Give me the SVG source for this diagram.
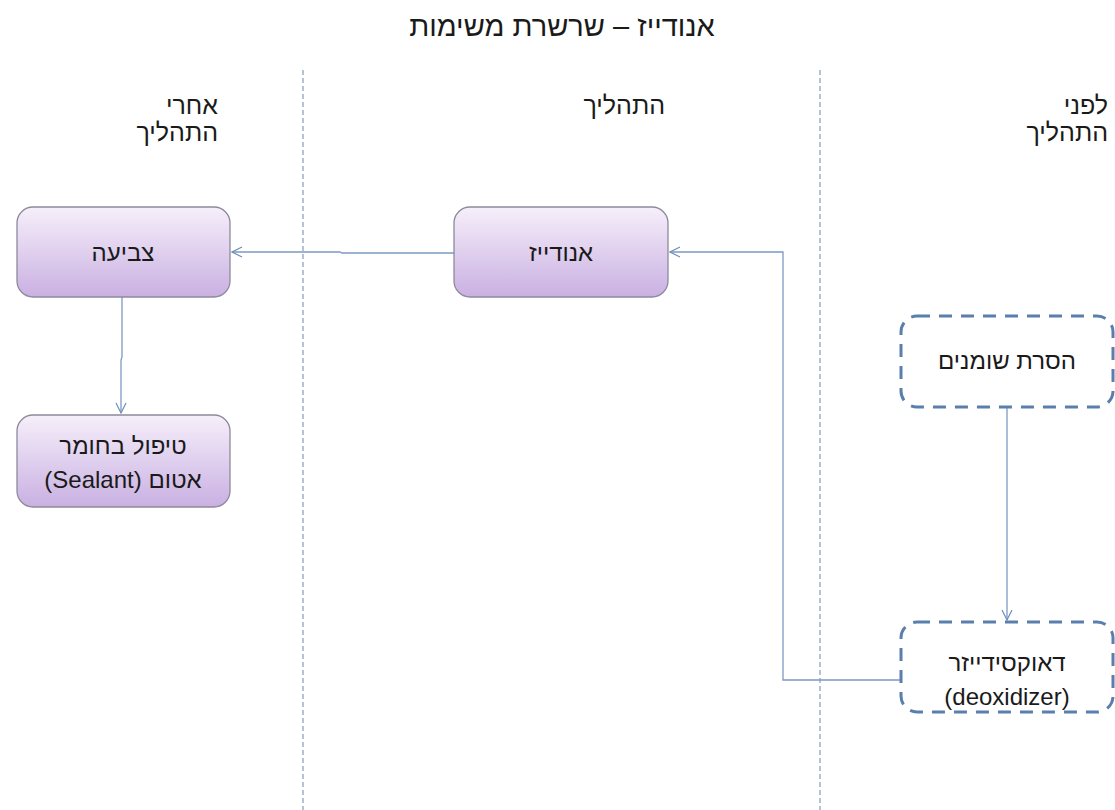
<svg xmlns="http://www.w3.org/2000/svg" width="1115" height="810" viewBox="0 0 1115 810">
<defs>
<linearGradient id="purp" x1="0" y1="0" x2="0" y2="1">
<stop offset="0" stop-color="#f6effa"/>
<stop offset="1" stop-color="#c9b0e2"/>
</linearGradient>
<marker id="arr" viewBox="0 0 12 12" refX="11" refY="6" markerWidth="12" markerHeight="12" markerUnits="userSpaceOnUse" orient="auto">
<path d="M1,1 L11,6 L1,11" fill="none" stroke="#6f8fbb" stroke-width="1.2"/>
</marker>
</defs>
<style>
text{font-family:"Liberation Sans","DejaVu Sans",sans-serif;fill:#1a1a1a;}
.h{font-size:25px;text-anchor:start;}
.t{font-size:24px;text-anchor:middle;}
.solid{fill:url(#purp);stroke:#8d8a9c;stroke-width:1.3;}
.dash{fill:#ffffff;stroke:#5a7fac;stroke-width:3;stroke-dasharray:13,9;}
.lane{stroke:#6d87b0;stroke-width:1;stroke-dasharray:5,3;fill:none;}
.con{stroke:#7d99c2;stroke-width:1.3;fill:none;}
</style>
<rect width="1115" height="810" fill="#ffffff"/>
<text x="562" y="36" style="font-size:29px;text-anchor:middle" direction="rtl">אנודייז – שרשרת משימות</text>
<g id="lanes">
<line class="lane" x1="303" y1="70" x2="303" y2="810"/>
<line class="lane" x1="820" y1="70" x2="820" y2="810"/>
</g>
<g id="headers">
<text class="h" x="218" y="114" direction="rtl">אחרי</text>
<text class="h" x="218" y="141" direction="rtl">התהליך</text>
<text class="h" x="665" y="114" direction="rtl">התהליך</text>
<text class="h" x="1108" y="114" direction="rtl">לפני</text>
<text class="h" x="1108" y="141" direction="rtl">התהליך</text>
</g>
<g id="connectors">
<polyline class="con" points="900,680 783,680 783,252 670,252" marker-end="url(#arr)"/>
<polyline class="con" points="454,253 342,253 340,252 232,252" marker-end="url(#arr)"/>
<polyline class="con" points="122,297 122,357 121,360 121,413" marker-end="url(#arr)"/>
<polyline class="con" points="1007,407 1007,620" marker-end="url(#arr)"/>
</g>
<g id="node-paint">
<rect class="solid" x="17" y="207" width="213" height="90" rx="16"/>
<text class="t" x="123" y="261" direction="rtl">צביעה</text>
</g>
<g id="node-sealant">
<rect class="solid" x="17" y="415" width="213" height="92" rx="16"/>
<text class="t" x="123" y="454" direction="rtl">טיפול בחומר</text>
<text class="t" x="123" y="488" direction="rtl">אטום (Sealant)</text>
</g>
<g id="node-anodize">
<rect class="solid" x="454" y="207" width="214" height="90" rx="16"/>
<text class="t" x="561" y="261" direction="rtl">אנודייז</text>
</g>
<g id="node-degrease">
<rect class="dash" x="901" y="316" width="212" height="91" rx="16"/>
<text class="t" x="1007" y="369" direction="rtl">הסרת שומנים</text>
</g>
<g id="node-deox">
<rect class="dash" x="901" y="622" width="212" height="90" rx="16"/>
<text class="t" x="1007" y="671" direction="rtl">דאוקסידייזר</text>
<text class="t" x="1007" y="705" direction="rtl">(deoxidizer)</text>
</g>
</svg>
